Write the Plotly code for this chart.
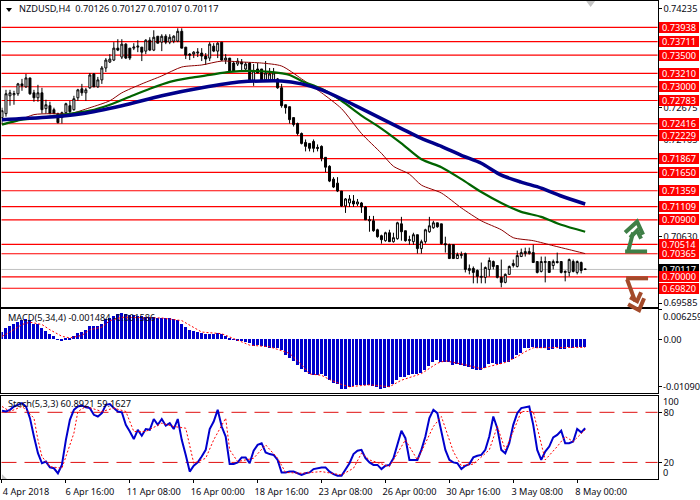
import plotly.graph_objects as go

FONT = "Noto Sans"
TXT = "#0a0a14"
W, H = 700, 500

opens = [
 .72513,.72575,.72857,.72873,.72889,.73045,.72998,.73139,.72904,.72826,
 .72904,.72654,.72701,.72638,.72575,.72513,.72591,.72701,.72638,.72826,
 .72967,.72904,.72983,.73202,.72998,.73108,.73296,.73390,.73421,.73609,
 .73468,.73672,.73609,.73609,.73625,.73625,.73562,.73734,.73578,.73797,
 .73703,.73797,.73703,.73719,.73719,.73875,.73625,.73515,.73515,.73531,
 .73531,.73484,.73452,.73640,.73562,.73703,.73421,.73452,.73374,.73358,
 .73390,.73280,.73374,.73092,.73280,.73280,.73108,.73108,.73108,.73124,
 .72983,.72716,.72685,.72513,.72419,.72262,.72121,.72106,.72137,.72043,
 .72059,.71886,.71745,.71542,.71479,.71354,.71119,.71166,.71197,.71150,
 .71166,.71103,.70884,.70884,.70743,.70649,.70571,.70696,.70555,.70602,
 .70837,.70728,.70571,.70555,.70665,.70446,.70555,.70712,.70775,.70853,
 .70837,.70524,.70508,.70508,.70289,.70336,.70367,.70101,.70133,.70101,
 .69992,.69992,.70117,.70242,.70179,.69992,.69913,.70039,.70179,.70164,
 .70320,.70367,.70367,.70383,.70242,.70086,.70226,.70242,.70179,.70242,
 .70242,.70070,.70070,.70242,.70070,.70226,.70126]
closes = [
 .72622,.72889,.72904,.72893,.73045,.73014,.73139,.72889,.72826,.72904,
 .72638,.72716,.72575,.72575,.72434,.72591,.72732,.72607,.72810,.72951,
 .72904,.72951,.73186,.72998,.73108,.73296,.73421,.73437,.73609,.73578,
 .73672,.73452,.73452,.73625,.73640,.73546,.73734,.73578,.73781,.73687,
 .73797,.73703,.73781,.73797,.73875,.73609,.73499,.73499,.73546,.73546,
 .73484,.73437,.73672,.73562,.73687,.73421,.73452,.73249,.73249,.73405,
 .73358,.73358,.73092,.73249,.73217,.73092,.73217,.73202,.73217,.72983,
 .72701,.72669,.72481,.72403,.72262,.72106,.72059,.72028,.72028,.72028,
 .71871,.71730,.71511,.71417,.71354,.71119,.71229,.71229,.71150,.71182,
 .71103,.70900,.70900,.70728,.70634,.70587,.70696,.70555,.70618,.70853,
 .70712,.70571,.70587,.70665,.70446,.70555,.70743,.70806,.70853,.70790,
 .70524,.70508,.70289,.70289,.70352,.70352,.70117,.70133,.70070,.70007,
 .70007,.70148,.70258,.70164,.69992,.69913,.70039,.70164,.70211,.70336,
 .70383,.70399,.70399,.70226,.70070,.70242,.70242,.70070,.70242,.70226,
 .70070,.70086,.70273,.70086,.70242,.70101,.70117]
highs = [
 .72669,.72951,.72951,.72936,.73061,.73124,.73202,.73139,.72951,.73030,
 .72983,.72795,.72763,.72669,.72591,.72607,.72748,.72779,.72857,.72967,
 .73045,.72983,.73217,.73217,.73155,.73327,.73452,.73515,.73703,.73750,
 .73750,.73687,.73609,.73687,.73734,.73625,.73750,.73781,.73891,.73797,
 .73828,.73828,.73828,.73813,.73922,.73922,.73625,.73531,.73562,.73609,
 .73609,.73531,.73703,.73687,.73703,.73703,.73515,.73452,.73405,.73452,
 .73437,.73390,.73390,.73358,.73374,.73280,.73405,.73296,.73296,.73139,
 .73045,.72716,.72685,.72513,.72434,.72278,.72168,.72106,.72168,.72090,
 .72074,.71886,.71761,.71573,.71573,.71354,.71244,.71291,.71291,.71229,
 .71182,.71119,.70962,.70962,.70759,.70665,.70712,.70743,.70696,.70869,
 .70947,.70728,.70649,.70696,.70665,.70587,.70759,.70947,.70884,.70853,
 .70837,.70634,.70524,.70508,.70383,.70399,.70383,.70195,.70164,.70117,
 .70226,.70164,.70305,.70258,.70179,.70273,.70054,.70179,.70273,.70414,
 .70446,.70461,.70461,.70508,.70242,.70320,.70320,.70242,.70273,.70383,
 .70242,.70101,.70289,.70273,.70258,.70242,.70127]
lows = [
 .72403,.72528,.72701,.72716,.72857,.72936,.72983,.72873,.72763,.72763,
 .72575,.72575,.72575,.72575,.72419,.72419,.72575,.72575,.72622,.72779,
 .72857,.72779,.72967,.72998,.72983,.73045,.73233,.73374,.73405,.73562,
 .73437,.73437,.73421,.73578,.73546,.73405,.73515,.73562,.73562,.73687,
 .73562,.73672,.73672,.73687,.73703,.73609,.73437,.73421,.73452,.73468,
 .73405,.73343,.73405,.73546,.73452,.73405,.73358,.73249,.73233,.73327,
 .73249,.73249,.73092,.73014,.73217,.73092,.73092,.73092,.73108,.72967,
 .72669,.72575,.72419,.72372,.72231,.72090,.71980,.71980,.71965,.71980,
 .71824,.71652,.71495,.71401,.71338,.71103,.71009,.71103,.71103,.71119,
 .71009,.70900,.70712,.70712,.70618,.70524,.70555,.70555,.70540,.70587,
 .70571,.70555,.70508,.70508,.70367,.70367,.70524,.70696,.70759,.70775,
 .70508,.70383,.70289,.70289,.70289,.70289,.70070,.70039,.69898,.69898,
 .69898,.69898,.70007,.70117,.69976,.69835,.69898,.70039,.70148,.70148,
 .70320,.70320,.70352,.70226,.70054,.70070,.69913,.70070,.70117,.70211,
 .70054,.69929,.70007,.70070,.70039,.70054,.70107]

ma_blue_bars = [0,10,20,30,40,50,60,70,75,80,85,90,95,100,105,110,115,120,125,130,135,140,146]
ma_blue = [.72481,.72513,.72575,.72701,.72857,.72983,.73077,.73092,.73045,.72951,.72810,.72654,.72497,
           .72340,.72184,.72059,.71918,.71792,.71605,.71495,.71401,.71276,.71150]
ma_green_bars = [0,5,10,17,22,27,32,37,42,47,52,57,62,67,72,75,80,85,90,95,100,105,110,115,120,125,130,135,140,146]
ma_green = [.72403,.72481,.72513,.72575,.72622,.72716,.72842,.72967,.73077,.73139,.73186,.73233,.73249,.73233,.73186,
            .73092,.72967,.72779,.72544,.72340,.72106,.71855,.71730,.71542,.71338,.71166,.71025,.70947,.70821,.70712]
ma_red_bars = [0,4,8,12,17,22,27,30,35,40,45,50,55,60,65,70,75,80,85,90,95,98,102,105,110,115,120,125,128,133,138,142,146]
ma_red = [.72403,.72466,.72560,.72575,.72575,.72669,.72779,.72904,.73045,.73171,.73311,.73343,.73405,.73390,.73374,.73327,
          .73124,.72904,.72654,.72262,.71949,.71745,.71620,.71448,.71323,.71088,.70884,.70743,.70618,.70571,.70492,.70430,.70367]

macd = [
 .00155,.00242,.00269,.00310,.00357,.00390,.00424,.00390,.00310,.00310,
 .00242,.00175,.00108,.00067,.00007,-.00027,.00013,.00027,.00067,.00135,
 .00155,.00188,.00269,.00269,.00276,.00323,.00424,.00437,.00491,.00525,
 .00538,.00525,.00511,.00505,.00491,.00478,.00471,.00458,.00458,.00444,
 .00444,.00431,.00431,.00417,.00390,.00323,.00256,.00202,.00175,.00155,
 .00135,.00121,.00114,.00114,.00135,.00108,.00081,.00020,.00007,-.00027,
 -.00034,-.00047,-.00081,-.00135,-.00114,-.00135,-.00155,-.00182,-.00168,-.00182,
 -.00215,-.00316,-.00384,-.00451,-.00518,-.00606,-.00666,-.00720,-.00740,-.00740,
 -.00720,-.00754,-.00835,-.00888,-.00909,-.01010,-.01010,-.00969,-.00956,-.00942,
 -.00942,-.00929,-.00942,-.00956,-.00976,-.01010,-.00989,-.00969,-.00922,-.00835,
 -.00767,-.00767,-.00740,-.00713,-.00713,-.00686,-.00619,-.00538,-.00471,-.00431,
 -.00458,-.00464,-.00471,-.00525,-.00505,-.00518,-.00552,-.00572,-.00599,-.00619,
 -.00619,-.00586,-.00505,-.00485,-.00498,-.00511,-.00471,-.00464,-.00404,-.00316,
 -.00269,-.00182,-.00168,-.00162,-.00182,-.00175,-.00168,-.00215,-.00195,-.00162,
 -.00195,-.00195,-.00162,-.00168,-.00148,-.00148,-.00148]
macd_signal_bars = [0,2,5,7,10,12,15,17,20,22,25,27,30,35,40,45,47,50,55,58,62,67,72,75,77,80,82,85,87,92,97,100,105,109,111,116,120,122,126,129,131,133,137,143,146]
macd_signal = [.00067,.00155,.00310,.00357,.00310,.00202,.00067,.00034,.00087,.00202,.00256,.00390,.00458,.00458,.00444,.00390,.00289,.00155,.00121,.00020,
               -.00114,-.00148,-.00283,-.00518,-.00707,-.00734,-.00821,-.00922,-.00969,-.00929,-.00969,-.00835,-.00700,-.00485,-.00437,-.00518,-.00599,-.00552,-.00471,-.00350,-.00249,-.00168,-.00168,-.00162,-.00159]

stoch = [
 82,81,83,87,89,91,87,73,51,31,19,21,14,13,7,17,47,71,83,87,88,86,85,77,75,79,89,90,85,81,
 80,65,57,48,59,52,60,59,72,65,72,64,67,60,72,47,29,9,16,20,27,35,60,69,83,63,51,18,18,20,
 26,26,19,34,41,43,32,30,29,23,8,8,9,9,7,5,7,8,12,13,14,14,9,6,4,4,11,19,30,34,
 35,25,20,17,17,12,16,17,25,41,58,49,23,23,23,35,51,73,83,79,57,35,23,20,19,12,16,18,26,28,
 29,35,51,75,61,35,31,43,65,79,85,86,87,65,35,23,33,39,50,53,58,43,43,45,60,56,60.89]
stoch_signal_bars = [0,2,5,6,8,9,10,12,15,16,18,19,21,25,28,31,33,36,40,43,46,48,51,53,56,57,59,63,66,69,71,75,80,85,88,90,92,97,101,103,104,108,110,113,115,118,122,124,126,128,130,133,136,139,141,143,146]
stoch_signal = [87,81,87,83,73,47,27,15,13,27,55,81,87,81,85,81,57,57,67,63,61,19,25,47,73,35,21,25,41,25,8,7,9,5,13,31,23,15,47,31,23,63,75,33,16,18,35,63,35,57,81,81,23,39,51,45,59.16]

flag_levels = [.73938,.73711,.73500,.73210,.73000,.72783,.72416,.72229,.71867,.71650,
               .71359,.71109,.70900,.70514,.70365,.70000,.69820]
current_price = .70117
price_ticks = [.74235,.72675,.72165,.70630,.69585]
time_tick_bars = [0,16,32,48,64,80,96,112,128,144]
time_tick_labels = ["4 Apr 2018","6 Apr 16:00","11 Apr 08:00","16 Apr 00:00","18 Apr 16:00",
                    "23 Apr 08:00","26 Apr 00:00","30 Apr 16:00","3 May 08:00","8 May 00:00"]
title_text = "NZDUSD,H4  0.70126 0.70127 0.70107 0.70117"
macd_text = "MACD(5,34,4) -0.001484 -0.001586"
stoch_text = "Stoch(5,3,3) 60.8921 59.1627"

bars = list(range(len(closes)))
XRANGE = [-0.125, 164.125]
XDOM = [0.5 / W, 657.5 / W]
def py(y): return 1 - y / H
def px(x): return x / W

fig = go.Figure()
fig.add_trace(go.Candlestick(x=bars, open=opens, high=highs, low=lows, close=closes, xaxis="x", yaxis="y",
    increasing=dict(line=dict(color="black", width=1), fillcolor="white"),
    decreasing=dict(line=dict(color="black", width=1), fillcolor="black"),
    whiskerwidth=0, hoverinfo="skip"))
fig.add_trace(go.Scatter(x=ma_red_bars, y=ma_red, mode="lines", line=dict(color="#8b0000", width=1, shape="spline", smoothing=0.7), xaxis="x", yaxis="y"))
fig.add_trace(go.Scatter(x=ma_green_bars, y=ma_green, mode="lines", line=dict(color="#006400", width=2.2, shape="spline", smoothing=0.7), xaxis="x", yaxis="y"))
fig.add_trace(go.Scatter(x=ma_blue_bars, y=ma_blue, mode="lines", line=dict(color="#00008b", width=3.5, shape="spline", smoothing=0.7), xaxis="x", yaxis="y"))

fig.add_trace(go.Bar(x=bars, y=macd, width=0.75, marker=dict(color="#0000cd", line=dict(width=0)), xaxis="x2", yaxis="y2"))
fig.add_trace(go.Scatter(x=macd_signal_bars, y=macd_signal, mode="lines", line=dict(color="#ff0000", width=1, dash="2px,2px"), xaxis="x2", yaxis="y2"))

fig.add_trace(go.Scatter(x=bars, y=stoch, mode="lines", line=dict(color="#0000cd", width=2), xaxis="x3", yaxis="y3"))
fig.add_trace(go.Scatter(x=stoch_signal_bars, y=stoch_signal, mode="lines", line=dict(color="#ff0000", width=1, dash="2px,2px"), xaxis="x3", yaxis="y3"))

shapes = []
for v in flag_levels:
    shapes.append(dict(type="line", xref="x domain", yref="y", x0=0, x1=1, y0=v, y1=v, layer="below",
                       line=dict(color="#ff0000", width=1.2)))
shapes.append(dict(type="line", xref="x domain", yref="y", x0=0, x1=1, y0=current_price, y1=current_price, layer="below",
                   line=dict(color="#c0c0c0", width=1)))
for v in (80, 20):
    shapes.append(dict(type="line", xref="x3 domain", yref="y3", x0=0, x1=1, y0=v, y1=v, layer="below",
                       line=dict(color="#e01010", width=1, dash="15px,8px")))

def path(points, close=False):
    s = "M " + " L ".join(f"{px(a):.5f},{py(b):.5f}" for a, b in points)
    return s + (" Z" if close else "")

def deco(points, color, width=0, fill=None):
    shapes.append(dict(type="path", xref="paper", yref="paper", path=path(points, close=fill is not None),
                       fillcolor=fill, line=dict(color=color, width=width), layer="above"))

GREEN, BROWN, GREY = "#3f7f47", "#a34a2a", "#c4c4c4"
deco([(625, 252), (647, 252)], GREEN, 4)
deco([(628, 252), (633, 233)], GREEN, 4)
deco([(625, 233), (637, 222), (643, 235)], GREEN, 4)
deco([(630, 238), (637, 231), (641, 239)], GREEN, 4)
deco([(626, 279), (648, 279)], BROWN, 4)
deco([(627, 280), (635, 302)], BROWN, 4)
deco([(628, 305), (639, 311), (644, 299)], BROWN, 4)
deco([(630, 298), (637, 302), (641, 293)], BROWN, 4)
deco([(586, 0), (595, 0), (590.5, 6)], GREY, 0, GREY)
deco([(5, 7), (11, 7), (8, 11)], "#000000", 0, "#000000")
deco([(1, 476), (1, 481), (6, 481)], GREY, 0, GREY)

annotations = []
def label(x, y, text, anchor="left"):
    annotations.append(dict(xref="paper", yref="paper", x=px(x), y=py(y), text=text, showarrow=False,
                            xanchor=anchor, yanchor="middle", align="left", font=dict(family=FONT, size=9.2, color=TXT)))
label(16, 8, title_text.replace("  ", "&nbsp;&nbsp;"))
label(5, 318, macd_text)
label(5, 405, stoch_text)
label(661, 317, "0.006259")
label(661, 388, "-0.010906")
label(661, 403, "100")
label(661, 474, "0")

def flag(v, bg):
    annotations.append(dict(xref="paper", yref="y", x=px(659), y=v, text=f"{v:.5f}", showarrow=False, xanchor="left",
                            yanchor="middle", bgcolor=bg, width=40, height=11, borderpad=0, borderwidth=0, align="center",
                            font=dict(family=FONT, size=9.2, color="white")))
flag(current_price, "#000000")
for v in flag_levels:
    flag(v, "#ff0000")

common_x = dict(range=XRANGE, domain=XDOM, showgrid=False, zeroline=False, showline=True, mirror=True,
                linecolor="black", linewidth=1, showticklabels=False, ticks="")
common_y = dict(side="right", showgrid=False, zeroline=False, showline=True, mirror=True, linecolor="black", linewidth=1,
                ticks="outside", ticklen=3, tickcolor="black", tickfont=dict(family=FONT, size=9.2, color=TXT))
fig.update_layout(
    width=W, height=H, margin=dict(l=0, r=0, t=0, b=0), paper_bgcolor="white", plot_bgcolor="white",
    showlegend=False, hovermode=False, bargap=0, shapes=shapes, annotations=annotations,
    xaxis=dict(common_x, anchor="y"),
    xaxis2=dict(common_x, anchor="y2"),
    xaxis3={**common_x, "anchor": "y3", "showticklabels": True, "ticks": "outside", "ticklen": 3, "tickcolor": "black",
            "tickmode": "array", "tickvals": time_tick_bars, "ticktext": time_tick_labels, "ticklabelshift": 24,
            "ticklabelstandoff": 1, "tickangle": 0, "tickfont": dict(family=FONT, size=9.2, color=TXT)},
    yaxis=dict(common_y, anchor="x", domain=[py(308), py(0.5)], range=[0.69522, 0.74345],
               tickmode="array", tickvals=price_ticks, ticktext=[f"{v:.5f}" for v in price_ticks]),
    yaxis2=dict(common_y, anchor="x2", domain=[py(394), py(310)], range=[-0.010906, 0.006259],
                tickmode="array", tickvals=[0.006259, 0, -0.0096], ticktext=["", "0.00", ""]),
    yaxis3=dict(common_y, anchor="x3", domain=[py(481), py(397)], range=[0, 100],
                tickmode="array", tickvals=[80, 20], ticktext=["80", "20"]),
)
fig.update_xaxes(rangeslider_visible=False)

fig.write_html("out.html", config={"displayModeBar": False},
               post_script="document.body.style.margin='0';document.body.style.overflow='hidden';")
